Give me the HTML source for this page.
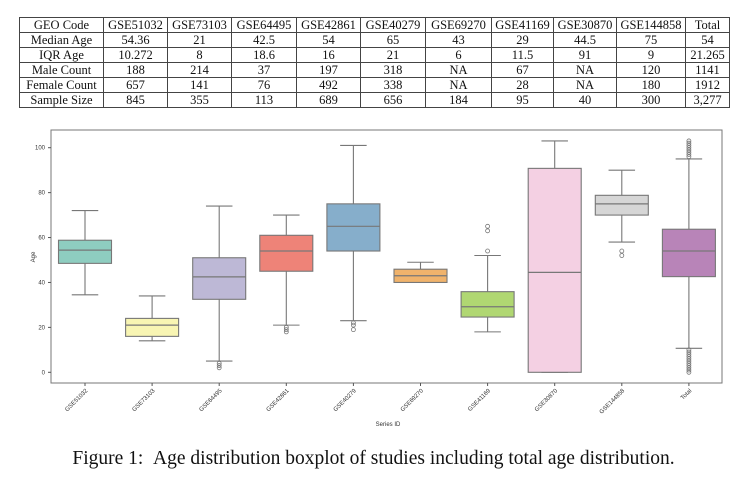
<!DOCTYPE html>
<html><head><meta charset="utf-8"><style>
body{margin:0;background:#fff;width:747px;height:482px;overflow:hidden;position:relative;font-family:"Liberation Serif",serif}
table{position:absolute;left:19px;top:17px;border-collapse:collapse;font-size:12.5px;color:#111;table-layout:fixed;width:711px}
td{border:1px solid #444;text-align:center;padding:0;height:14px;line-height:14px;white-space:nowrap;overflow:hidden}
#cap{position:absolute;left:0;width:747px;top:448px;text-align:center;font-size:19.5px;color:#111}
svg{position:absolute;left:0;top:0}
</style></head><body>
<table>
<colgroup><col style="width:84px"><col style="width:64px"><col style="width:64px"><col style="width:65px"><col style="width:64px"><col style="width:65px"><col style="width:66px"><col style="width:62px"><col style="width:63px"><col style="width:69px"><col style="width:44px"></colgroup>
<tr><td>GEO Code</td><td>GSE51032</td><td>GSE73103</td><td>GSE64495</td><td>GSE42861</td><td>GSE40279</td><td>GSE69270</td><td>GSE41169</td><td>GSE30870</td><td>GSE144858</td><td>Total</td></tr>
<tr><td>Median Age</td><td>54.36</td><td>21</td><td>42.5</td><td>54</td><td>65</td><td>43</td><td>29</td><td>44.5</td><td>75</td><td>54</td></tr>
<tr><td>IQR Age</td><td>10.272</td><td>8</td><td>18.6</td><td>16</td><td>21</td><td>6</td><td>11.5</td><td>91</td><td>9</td><td>21.265</td></tr>
<tr><td>Male Count</td><td>188</td><td>214</td><td>37</td><td>197</td><td>318</td><td>NA</td><td>67</td><td>NA</td><td>120</td><td>1141</td></tr>
<tr><td>Female Count</td><td>657</td><td>141</td><td>76</td><td>492</td><td>338</td><td>NA</td><td>28</td><td>NA</td><td>180</td><td>1912</td></tr>
<tr><td>Sample Size</td><td>845</td><td>355</td><td>113</td><td>689</td><td>656</td><td>184</td><td>95</td><td>40</td><td>300</td><td>3,277</td></tr>
</table>
<svg id="chart" width="747" height="482"></svg>
<div id="cap">Figure 1: &nbsp;Age distribution boxplot of studies including total age distribution.</div>
<script>
const categories=["GSE51032","GSE73103","GSE64495","GSE42861","GSE40279","GSE69270","GSE41169","GSE30870","GSE144858","Total"];
const whiskerLow=[34.5,14,5,21,23,40,18,0,58,10.7];
const q1=[48.5,16,32.5,45,54,40,24.6,0,70,42.6];
const medians=[54.4,21,42.5,54,65,43,29.2,44.5,75,54];
const q3=[58.8,24,51,61,75,45.9,35.9,90.8,78.8,63.7];
const whiskerHigh=[72,34,74,70,101,49,52,103,90,95];
const outliers=[[],[],[2,3,4],[18,19,20],[19,21,22],[],[54,63,65],[],[52,54],[0,1,2,3,4,5,6,7,8,9,10,96,97,98,99,100,101,102,103]];
const colors=["#8ecdc0","#f8f5b3","#bdb8d6","#ee8378","#86aecb","#f0b36c","#b0d772","#f4d0e3","#d6d6d6","#b884b8"];
const yTicks=[0,20,40,60,80,100];
const NS="http://www.w3.org/2000/svg",svg=document.getElementById("chart");
const L=51,R=722,T=130,B=383;
const y=v=>372.3-v*2.246;
const x=i=>85+i*67.1;
const bw=53;
function mk(t,a,p){const e=document.createElementNS(NS,t);for(const k in a)e.setAttribute(k,a[k]);(p||svg).appendChild(e);return e;}
const frame=mk("rect",{x:L,y:T,width:R-L,height:B-T,fill:"none",stroke:"#777","stroke-width":1});


yTicks.forEach(v=>{
 const t=mk("line",{x1:L-3,x2:L,y1:y(v),y2:y(v),stroke:"#555"});
 
 
 const l=mk("text",{x:L-6,y:y(v)+2,"font-size":6,"text-anchor":"end",fill:"#333","font-family":"Liberation Sans, sans-serif"});
 l.textContent=v;
 
 
});
const gray="#777";
categories.forEach((c,i)=>{
 const cx=x(i);
 const g=mk("g",{});
 
 
 mk("line",{x1:cx,x2:cx,y1:y(whiskerHigh[i]),y2:y(q3[i]),stroke:gray,"stroke-width":1.1},g);
 mk("line",{x1:cx,x2:cx,y1:y(q1[i]),y2:y(whiskerLow[i]),stroke:gray,"stroke-width":1.1},g);
 mk("line",{x1:cx-bw/4,x2:cx+bw/4,y1:y(whiskerHigh[i]),y2:y(whiskerHigh[i]),stroke:gray,"stroke-width":1.1},g);
 mk("line",{x1:cx-bw/4,x2:cx+bw/4,y1:y(whiskerLow[i]),y2:y(whiskerLow[i]),stroke:gray,"stroke-width":1.1},g);
 mk("rect",{x:cx-bw/2,y:y(q3[i]),width:bw,height:y(q1[i])-y(q3[i]),fill:colors[i],stroke:gray,"stroke-width":1.1},g);
 mk("line",{x1:cx-bw/2,x2:cx+bw/2,y1:y(medians[i]),y2:y(medians[i]),stroke:gray,"stroke-width":1.2},g);
 outliers[i].forEach(o=>{
  const p=mk("circle",{cx:cx,cy:y(o),r:2,fill:"none",stroke:gray,"stroke-width":0.8},g);
  
  
 });
 const t=mk("line",{x1:cx,x2:cx,y1:B,y2:B+3,stroke:"#555"});
 
 
 const l=mk("text",{x:cx+3,y:B+8,"font-size":6,"text-anchor":"end",fill:"#333","font-family":"Liberation Sans, sans-serif",transform:`rotate(-45 ${cx+3} ${B+8})`});
 l.textContent=c;
 
 
});
const xl=mk("text",{x:388,y:426,"font-size":6,"text-anchor":"middle",fill:"#333","font-family":"Liberation Sans, sans-serif"});
xl.textContent="Series ID";


const yl=mk("text",{x:35,y:257,"font-size":6,"text-anchor":"middle",fill:"#333","font-family":"Liberation Sans, sans-serif",transform:"rotate(-90 35 257)"});
yl.textContent="Age";


</script>
</body></html>
